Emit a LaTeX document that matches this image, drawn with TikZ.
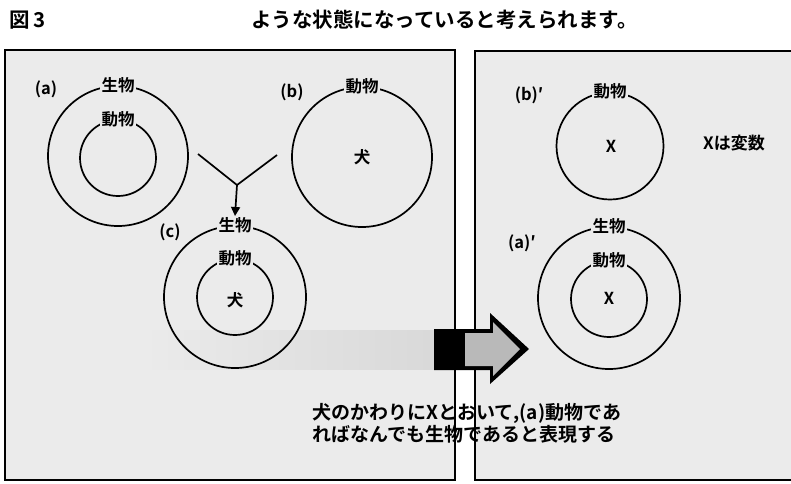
\documentclass[tikz,border=0pt]{standalone}
\usepackage{fontspec}
\newfontfamily\cjk{Noto Sans CJK JP}
\newfontfamily\cjkb{Noto Sans CJK JP Bold}
\usetikzlibrary{arrows.meta}
\definecolor{panel}{gray}{0.92}
\tikzset{
  ring/.style={draw, circle, line width=1.7pt, inner sep=0pt},
  lab/.style={font=\cjkb\fontsize{16.5}{18}\selectfont, fill=panel, inner sep=1.2pt},
  plain/.style={font=\cjkb\fontsize{16.5}{18}\selectfont, inner sep=0pt},
  note/.style={font=\cjkb\fontsize{19}{22}\selectfont, inner sep=0pt, align=left},
  head/.style={font=\cjkb\fontsize{20.5}{22}\selectfont, inner sep=0pt},
  frame/.style={draw, line width=1.6pt, fill=panel},
  conn/.style={line width=1.7pt},
}
\begin{document}
\begin{tikzpicture}[x=1pt,y=-1pt]
\useasboundingbox (0,0) rectangle (791,483);
\fill[white] (0,0) rectangle (791,483);
% panels
\draw[frame] (5,50) rectangle (455,480);
\draw[frame] (475,51) rectangle (800,480);
% smear
\shade[left color=panel, right color=gray!30] (150,330) rectangle (434,369);
% header
\node[head, anchor=west] (fig) at (9,20) {図\,3};
\node[head, anchor=west] (title) at (251,20) {ような状態になっていると考えられます。};
% (a)
\node[ring, minimum size=140pt] (aout) at (118,156) {};
\node[ring, minimum size=76pt] (ain) at (118,158) {};
\node[lab] (al1) at (aout.north) {生物};
\node[lab] (al2) at (ain.north) {動物};
\node[plain] (atag) at (46,89) {(a)};
% (b)
\node[ring, minimum size=140pt] (bout) at (362,157) {};
\node[lab] (bl1) at (bout.north) {動物};
\node[plain] (bdog) at (362,157) {犬};
\node[plain] (btag) at (292,92) {(b)};
% connector
\coordinate (yl) at (198,154);
\coordinate (yr) at (277,155);
\coordinate (yj) at (237,185);
\draw[conn] (yl) -- (yj) -- (yr);
% (c)
\node[ring, minimum size=142pt] (cout) at (235,297) {};
\node[ring, minimum size=76pt] (cin) at (235,297) {};
\node[lab] (cl1) at (cout.north) {生物};
\node[lab] (cl2) at (cin.north) {動物};
\node[plain] (cdog) at (235,300) {犬};
\node[plain] (ctag) at (170,232) {(c)};
\draw[conn, -{Triangle[length=9pt,width=9pt]}] (yj) -- (cl1.north);
% (b)'
\node[ring, minimum size=107pt] (bpout) at (610,146) {};
\node[lab] (bpl1) at (bpout.north) {動物};
\node[plain] (bpx) at (611,146) {X};
\node[plain] (bptag) at (529,95) {(b)′};
\node[plain, font=\cjkb\fontsize{17}{18}\selectfont] (var) at (734,143) {Xは変数};
% (a)'
\node[ring, minimum size=142pt] (apout) at (609,298) {};
\node[ring, minimum size=76pt] (apin) at (609,299) {};
\node[lab] (apl1) at (apout.north) {生物};
\node[lab] (apl2) at (apin.north) {動物};
\node[plain] (apx) at (609,298) {X};
\node[plain] (aptag) at (522,243) {(a)′};
% big arrow
\fill[black] (434,329) -- (490,329) -- (490,313) -- (529,349) -- (490,384) -- (490,370) -- (434,370) -- cycle;
\fill[gray!55] (465,333) -- (493,333) -- (493,322) -- (520,349) -- (493,376) -- (493,366) -- (465,366) -- cycle;
% note
\node[note, anchor=north west] (note) at (312,403) {犬のかわりにXとおいて,(a)動物であ\\ればなんでも生物であると表現する};
\end{tikzpicture}
\end{document}
